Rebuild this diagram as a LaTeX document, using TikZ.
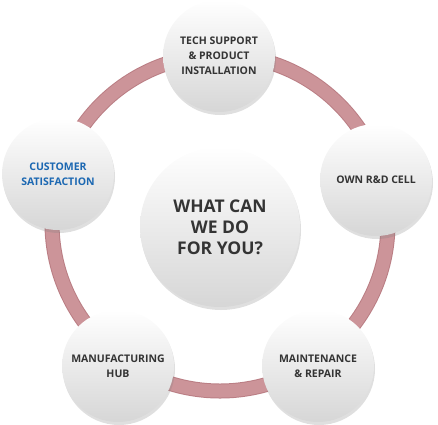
\documentclass[tikz,border=0pt]{standalone}
\usepackage{fontspec}
\setmainfont{Open Sans}
\usetikzlibrary{shadows}
\definecolor{ringpink}{RGB}{204,148,153}
\definecolor{ringedge}{RGB}{186,126,132}
\definecolor{txtgray}{RGB}{52,52,52}
\definecolor{custblue}{RGB}{28,104,178}
\tikzstyle{ring}=[line width=13pt,ringpink]
\tikzstyle{ringline}=[line width=15pt,ringedge]
\tikzstyle{ball}=[circle,draw=none,top color=white,bottom color=black!16,
                 drop shadow={shadow xshift=1pt,shadow yshift=-3pt,opacity=0.25},
                 text=txtgray,align=center,inner sep=0pt,minimum size=112pt,
                 font=\bfseries\fontsize{10.5}{15}\selectfont]
\tikzstyle{hub}=[ball,minimum size=160pt,font=\bfseries\fontsize{17.5}{21}\selectfont]

\begin{document}
\begin{tikzpicture}[x=1pt,y=-1pt]
\useasboundingbox (0,0) rectangle (438,424);
\draw[ringline] (220,223) circle (168pt);
\draw[ring] (220,223) circle (168pt);

\node[hub] (what) at (220,227) {WHAT CAN\\WE DO\\FOR YOU?};

\node[ball] (tech) at (219,56) {TECH SUPPORT\\\& PRODUCT\\INSTALLATION};
\node[ball] (rnd) at (376,180) {OWN R\&D CELL};
\node[ball] (repair) at (318,366) {MAINTENANCE\\\& REPAIR};
\node[ball] (mfg) at (118,366) {MANUFACTURING\\HUB};
\node[ball,text=custblue] (cust) at (58,174) {CUSTOMER\\SATISFACTION};
\end{tikzpicture}
\end{document}
